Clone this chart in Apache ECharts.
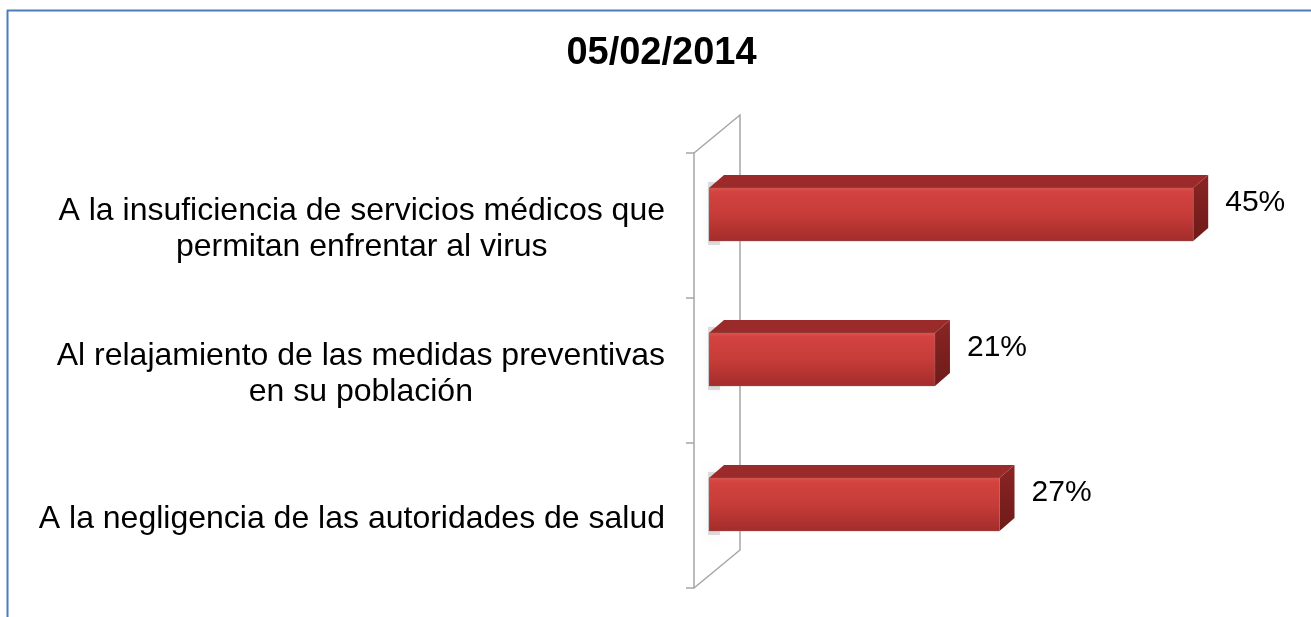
<!DOCTYPE html>
<html>
<head>
<meta charset="utf-8">
<script src="https://cdn.jsdelivr.net/npm/echarts@6/dist/echarts.min.js"></script>
<style>
  html, body { margin: 0; padding: 0; background: #fff; }
  #main { width: 1311px; height: 617px; }
</style>
</head>
<body>
<div id="main"></div>
<script>
// datos
var categories = [
    'A la insuficiencia de servicios médicos que\npermitan enfrentar al virus',
    'Al relajamiento de las medidas preventivas\nen su población',
    'A la negligencia de las autoridades de salud'
];
var values = [45, 21, 27];
var titleText = '05/02/2014';

var FONT = '"Liberation Sans", Arial, sans-serif';
var DX = 15, DY = 13;        // profundidad de las barras 3D
var WALL_DX = 46, WALL_DY = 38;

// barra en "3D" estilo Excel
function renderBar(params, api) {
    var cat = api.value(0);
    var v = api.value(1);
    var start = api.coord([0, cat]);
    var end = api.coord([v, cat]);
    var band = api.size([0, 1])[1];
    var h = band * 0.366;
    var cy = start[1] - band * 0.076;
    var x0 = start[0], x1 = end[0];
    var top = cy - h / 2, bottom = cy + h / 2;
    return {
        type: 'group',
        children: [
            { // sombra sobre la pared
                type: 'rect',
                shape: { x: x0 - 1, y: top - 6, width: 12, height: h + 10 },
                style: { fill: 'rgba(0,0,0,0.12)', shadowBlur: 10, shadowColor: 'rgba(0,0,0,0.4)' }
            },
            {
                type: 'polygon',
                shape: { points: [[x0, top], [x0 + DX, top - DY], [x1 + DX, top - DY], [x1, top]] },
                style: { fill: '#9b2b2a' }
            },
            {
                type: 'polygon',
                shape: { points: [[x1, top], [x1 + DX, top - DY], [x1 + DX, bottom - DY], [x1, bottom]] },
                style: {
                    fill: new echarts.graphic.LinearGradient(0, 0, 0, 1, [
                        { offset: 0, color: '#8a2523' },
                        { offset: 1, color: '#6e1b1a' }
                    ])
                }
            },
            {
                type: 'rect',
                shape: { x: x0, y: top, width: x1 - x0, height: h },
                style: {
                    fill: new echarts.graphic.LinearGradient(0, 0, 0, 1, [
                        { offset: 0, color: '#e4524c' },
                        { offset: 0.08, color: '#d3433f' },
                        { offset: 0.5, color: '#c63c39' },
                        { offset: 1, color: '#a32c2b' }
                    ]),
                    stroke: 'rgba(120,120,120,0.35)',
                    lineWidth: 1
                }
            },
            {
                type: 'text',
                x: x1 + DX + 17,
                y: cy - 12,
                style: {
                    text: v + '%',
                    fill: '#000',
                    font: '30px ' + FONT,
                    align: 'left',
                    verticalAlign: 'middle'
                }
            }
        ]
    };
}

// pared lateral (parte trasera)
function renderWall(params, api) {
    var band = api.size([0, 1])[1];
    var first = api.coord([0, 0]);
    var last = api.coord([0, categories.length - 1]);
    var x = first[0] - DX;
    var top = first[1] - band / 2;
    var bottom = last[1] + band / 2;
    var c = '#a6a6a6';
    return {
        type: 'group',
        children: [
            {
                type: 'polyline',
                shape: { points: [[x, top], [x + WALL_DX, top - WALL_DY], [x + WALL_DX, bottom - WALL_DY], [x, bottom]] },
                style: { stroke: c, lineWidth: 1.5, fill: null }
            }
        ]
    };
}

var chart = echarts.init(document.getElementById('main'), null, { renderer: 'canvas' });

var option = {
    backgroundColor: '#ffffff',
    animation: false,
    title: {
        text: titleText,
        left: 656.5,
        textAlign: 'center',
        top: 30,
        textStyle: { fontFamily: FONT, fontSize: 38, fontWeight: 'bold', color: '#000' }
    },
    grid: { left: 709, right: 64, top: 153, bottom: 29 },
    xAxis: { type: 'value', min: 0, max: 50, show: false },
    yAxis: {
        type: 'category',
        data: categories,
        inverse: true,
        offset: DX,
        axisLine: { show: true, onZero: false, lineStyle: { color: '#a6a6a6', width: 1.5 } },
        axisTick: { show: true, length: 8, lineStyle: { color: '#a6a6a6', width: 1.5 } },
        splitLine: { show: false },
        axisLabel: {
            margin: 29,
            align: 'right',
            lineHeight: 36,
            padding: [8, 0, 0, 0],
            formatter: function (val) {
                return val.split('\n').map(function (s) { return '{c|' + s + '}'; }).join('\n');
            },
            rich: {
                c: { align: 'center', fontFamily: FONT, fontSize: 32, color: '#000', lineHeight: 36 }
            }
        }
    },
    series: [
        {
            type: 'custom',
            name: 'pared',
            renderItem: renderWall,
            data: [[0, 0]],
            encode: { x: 1, y: 0 },
            z: 1,
            silent: true
        },
        {
            type: 'custom',
            name: 'valores',
            renderItem: renderBar,
            data: values.map(function (v, i) { return [i, v]; }),
            encode: { x: 1, y: 0 },
            z: 2
        }
    ],
    graphic: [
        { type: 'line', shape: { x1: 7.5, y1: 10, x2: 7.5, y2: 617 }, style: { stroke: '#4a7ebb', lineWidth: 2 } },
        { type: 'line', shape: { x1: 7, y1: 10.5, x2: 1311, y2: 10.5 }, style: { stroke: '#4a7ebb', lineWidth: 2 } }
    ]
};

chart.setOption(option);
</script>
</body>
</html>
